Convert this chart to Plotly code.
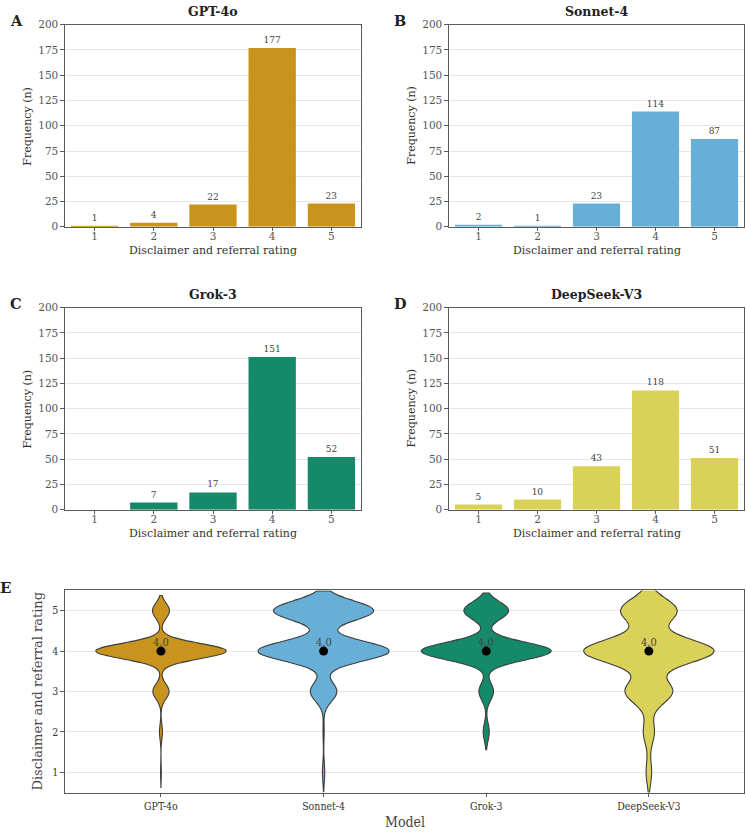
import numpy as np
import plotly.graph_objects as go

W, H = 746, 833

# ---------------- data ----------------
ratings = [1, 2, 3, 4, 5]
models = ["GPT-4o", "Sonnet-4", "Grok-3", "DeepSeek-V3"]
panel_letters = ["A", "B", "C", "D"]
counts_gpt4o = [1, 4, 22, 177, 23]
counts_sonnet4 = [2, 1, 23, 114, 87]
counts_grok3 = [0, 7, 17, 151, 52]
counts_deepseek = [5, 10, 43, 118, 51]
all_counts = [counts_gpt4o, counts_sonnet4, counts_grok3, counts_deepseek]
colors = ["#C9941D", "#68AFD7", "#148A6A", "#DAD158"]
y_ticks_bar = [0, 25, 50, 75, 100, 125, 150, 175, 200]
y_ticks_violin = [1, 2, 3, 4, 5]

SERIF = "DejaVu Serif"
COND = "DejaVu Serif Condensed, DejaVu Serif"


def px(x):
    return x / W


def py(y):
    return 1 - y / H


# plot-area boxes in pixels: (left, right, top, bottom)
boxes = [(65, 361, 19, 224), (449, 744, 19, 224), (65, 361, 306, 511), (449, 744, 306, 511)]
vbox = (65, 744, 593, 798)

fig = go.Figure()
FRAME = "#5a5a5a"
GRID = "#e6e6e6"

annotations = []
for i, (m, cnt, col, box) in enumerate(zip(models, all_counts, colors, boxes)):
    n = i + 1
    xa = "x" if n == 1 else f"x{n}"
    ya = "y" if n == 1 else f"y{n}"
    fig.add_trace(go.Bar(
        x=ratings, y=cnt, marker=dict(color=col, line=dict(width=0)),
        text=[str(c) if c > 0 else "" for c in cnt], textposition="outside",
        textfont=dict(family=SERIF, size=9, color="#444444"),
        cliponaxis=False, xaxis=xa, yaxis=ya, showlegend=False))
    l, r, t, b = box
    common = dict(showline=True, linecolor=FRAME, linewidth=1.2, mirror=True,
                  ticks="outside", ticklen=3.5, tickcolor=FRAME,
                  tickfont=dict(family=SERIF, size=10.5, color="#555555"))
    fig.layout[f"xaxis{'' if n == 1 else n}"] = dict(
        domain=[px(l), px(r)], anchor=ya, range=[0.5, 5.5], tickvals=ratings,
        showgrid=False, zeroline=False, ticklabelstandoff=-4, **common)
    fig.layout[f"yaxis{'' if n == 1 else n}"] = dict(
        domain=[py(b), py(t)], anchor=xa, range=[0, 200], tickvals=y_ticks_bar,
        showgrid=True, gridcolor=GRID, gridwidth=0.8, zeroline=False, **common)
    cx = (l + r) / 2
    annotations.append(dict(text=f"<b>{m}</b>", x=px(cx), y=py(t - 13), xref="paper", yref="paper",
                            showarrow=False, xanchor="center", yanchor="middle",
                            font=dict(family=SERIF, size=12.5, color="#222222")))
    annotations.append(dict(text=f"<b>{panel_letters[i]}</b>", x=px(l - 49), y=py(t - 4),
                            xref="paper", yref="paper", showarrow=False,
                            xanchor="center", yanchor="middle",
                            font=dict(family=SERIF, size=14.5, color="#222222")))
    annotations.append(dict(text="Disclaimer and referral rating", x=px(cx), y=py(b + 24),
                            xref="paper", yref="paper", showarrow=False,
                            xanchor="center", yanchor="middle",
                            font=dict(family=SERIF, size=11, color="#333333")))
    annotations.append(dict(text="Frequency (n)", x=px(l - 37), y=py((t + b) / 2),
                            xref="paper", yref="paper", showarrow=False, textangle=-90,
                            xanchor="center", yanchor="middle",
                            font=dict(family=SERIF, size=11, color="#333333")))

# ---------------- violin panel ----------------
for i, (m, cnt, col) in enumerate(zip(models, all_counts, colors)):
    data = np.repeat(ratings, cnt).astype(float)
    bw = data.std(ddof=1) * len(data) ** (-0.2)  # Scott's rule
    fig.add_trace(go.Violin(
        y=data, x0=i, name=m, width=0.8, scalemode="width", bandwidth=bw,
        spanmode="soft", points=False, box_visible=False, meanline_visible=False,
        fillcolor=col, opacity=1, line=dict(color="#3c3c3c", width=1.1),
        xaxis="x5", yaxis="y5", showlegend=False, hoverinfo="skip"))
    med = float(np.median(data))
    fig.add_trace(go.Scatter(
        x=[i], y=[med], mode="markers", marker=dict(color="black", size=9),
        xaxis="x5", yaxis="y5", showlegend=False))
    annotations.append(dict(text=f"{med:.1f}", x=i, y=med, xref="x5", yref="y5",
                            showarrow=False, yshift=9, xanchor="center", yanchor="middle",
                            font=dict(family=COND, size=11, color="#444444")))

l, r, t, b = vbox
vcommon = dict(showline=True, linecolor=FRAME, linewidth=1.2, mirror=True,
               ticks="outside", ticklen=3.5, tickcolor=FRAME,
               tickfont=dict(family=COND, size=10.5, color="#333333"))
fig.layout["xaxis5"] = dict(domain=[px(l), px(r)], anchor="y5", range=[-0.59, 3.585],
                            tickvals=list(range(len(models))), ticktext=models,
                            showgrid=False, zeroline=False, **vcommon)
fig.layout["yaxis5"] = dict(domain=[py(b), py(t)], anchor="x5", range=[0.5, 5.5],
                            tickvals=y_ticks_violin, showgrid=True, gridcolor=GRID,
                            gridwidth=0.8, zeroline=False, **vcommon)
annotations.append(dict(text="<b>E</b>", x=px(5), y=py(590), xref="paper", yref="paper",
                        showarrow=False, xanchor="center", yanchor="middle",
                        font=dict(family=SERIF, size=15, color="#222222")))
annotations.append(dict(text="Model", x=px((l + r) / 2), y=py(828), xref="paper", yref="paper",
                        showarrow=False, xanchor="center", yanchor="middle",
                        font=dict(family=COND, size=14, color="#444444")))
annotations.append(dict(text="Disclaimer and referral rating", x=px(37), y=py((t + b) / 2),
                        xref="paper", yref="paper", showarrow=False, textangle=-90,
                        xanchor="center", yanchor="middle",
                        font=dict(family=SERIF, size=13, color="#444444")))

fig.update_layout(width=W, height=H, margin=dict(l=0, r=0, t=0, b=0),
                  paper_bgcolor="white", plot_bgcolor="white", bargap=0.2,
                  violinmode="overlay", annotations=annotations,
                  font=dict(family=SERIF))
fig.write_html("out.html")
